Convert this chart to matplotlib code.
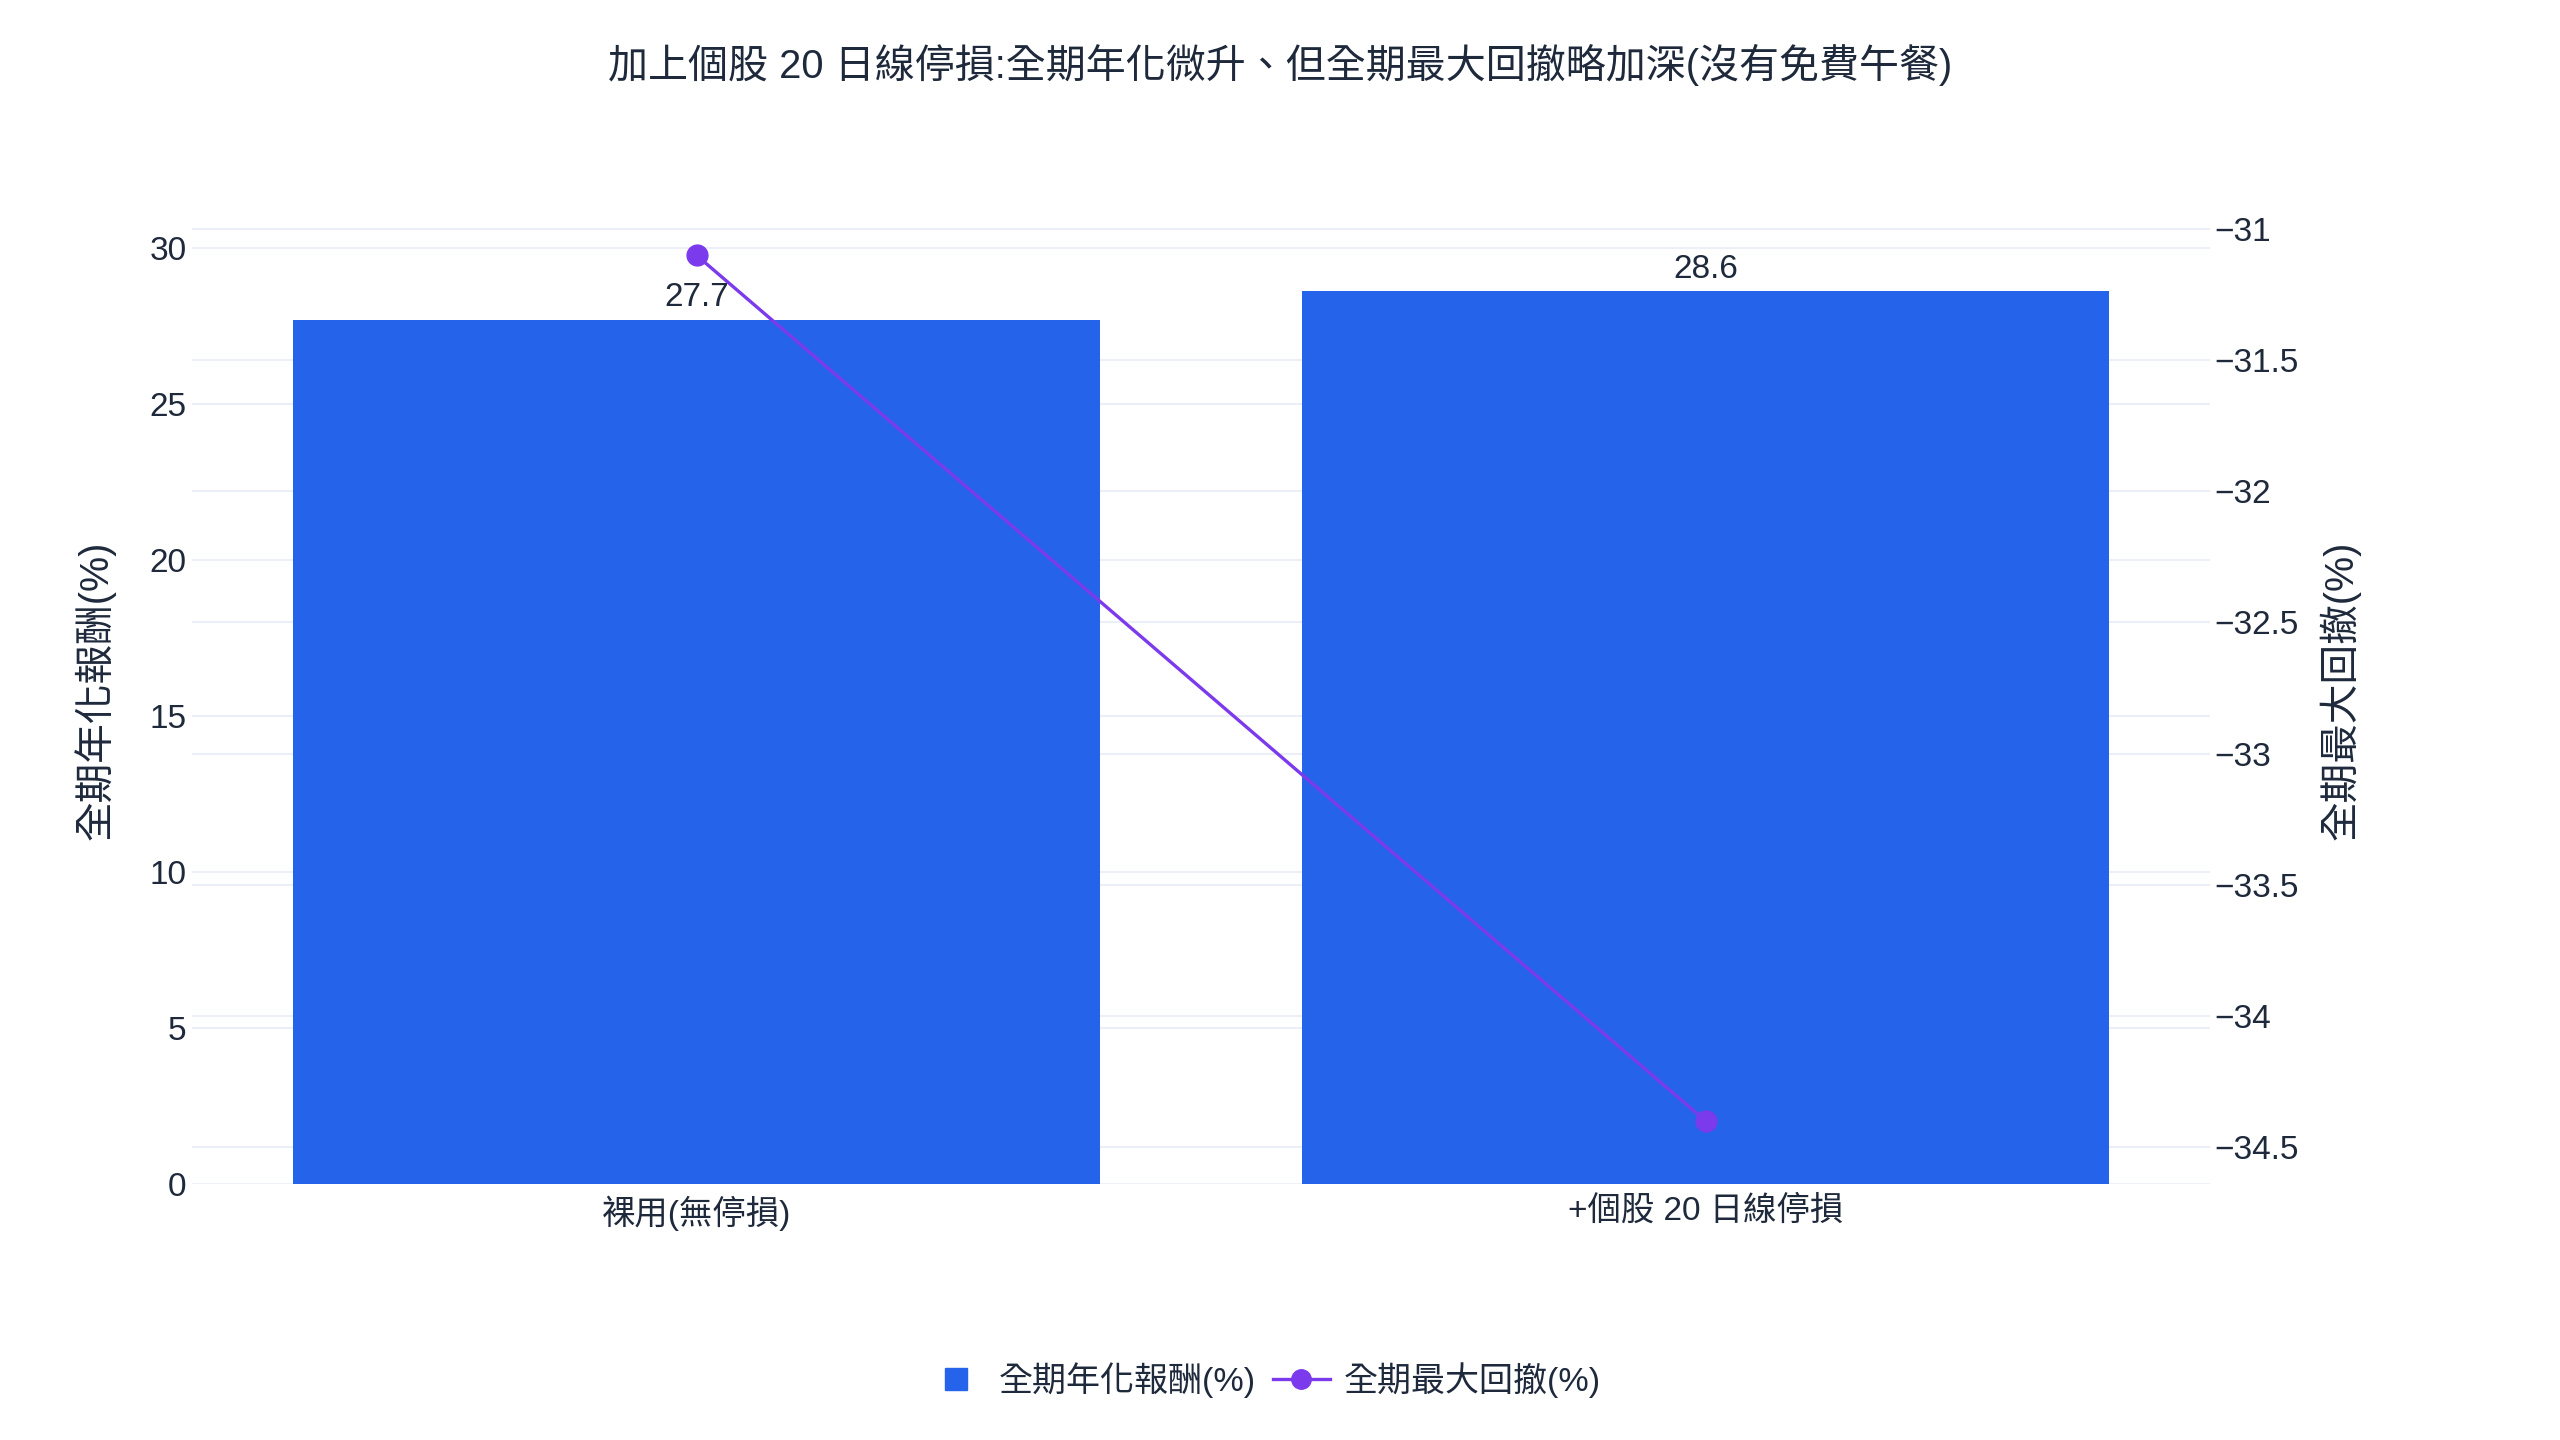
import matplotlib
matplotlib.use("Agg")
import matplotlib.pyplot as plt
from matplotlib.lines import Line2D
from matplotlib.ticker import FixedLocator, FuncFormatter

plt.rcParams['font.family'] = ['Liberation Sans', 'Noto Sans CJK TC', 'DejaVu Sans']
plt.rcParams['axes.unicode_minus'] = True

# ---- data ----
categories = ["裸用(無停損)", "+個股 20 日線停損"]
annual_return = [27.7, 28.6]
max_drawdown = [-31.1, -34.4]
left_ticks = [0, 5, 10, 15, 20, 25, 30]
right_ticks = [-31, -31.5, -32, -32.5, -33, -33.5, -34, -34.5]
title = "加上個股 20 日線停損:全期年化微升、但全期最大回撤略加深(沒有免費午餐)"
left_label = "全期年化報酬(%)"
right_label = "全期最大回撤(%)"

BAR = "#2563eb"
LINE = "#7c3aed"
GRID = "#ebf0f8"
TXT = "#1e293b"

W, H = 2560, 1440
fig = plt.figure(figsize=(W / 100, H / 100), dpi=100)
fig.patch.set_facecolor("white")

px_l, px_r, px_t, px_b = 192, 2210, 191, 1184
ax = fig.add_axes([px_l / W, 1 - px_b / H, (px_r - px_l) / W, (px_b - px_t) / H])
ax2 = ax.twinx()

x = list(range(len(categories)))
bars = ax.bar(x, annual_return, width=0.8, color=BAR, zorder=2)
ax.set_xlim(-0.5, len(categories) - 0.5)
ax.set_ylim(0, 31.82)
ax.yaxis.set_major_locator(FixedLocator(left_ticks))
ax.set_xticks(x)
ax.set_xticklabels(categories)

for xi, v in zip(x, annual_return):
    ax.annotate(f"{v:.1f}", (xi, v), xytext=(0, 4.5), textcoords="offset points",
                ha="center", va="bottom", fontsize=24, color=TXT, zorder=5)

ax2.plot(x, max_drawdown, color=LINE, lw=2.4, marker="o", markersize=15,
         zorder=4)
ax2.set_ylim(-34.641, -30.855)
ax2.yaxis.set_major_locator(FixedLocator(right_ticks))
ax2.yaxis.set_major_formatter(FuncFormatter(lambda v, p: f"{v:g}".replace("-", "\u2212")))

# draw line above bars
ax.set_zorder(1)
ax2.set_zorder(2)
ax.patch.set_visible(False)
ax2.patch.set_visible(False)

for a in (ax, ax2):
    for s in a.spines.values():
        s.set_visible(False)
    a.tick_params(axis="both", length=0, colors=TXT, labelsize=24)

ax.tick_params(axis="y", pad=4)
ax.tick_params(axis="x", pad=8)
ax2.tick_params(axis="y", pad=3)

# gridlines for both axes (drawn behind)
l0, l1 = ax.get_ylim()
r0, r1 = ax2.get_ylim()
for t in left_ticks:
    ax.axhline(t, color=GRID, lw=1.5 if t else 2.0, zorder=0)
for t in right_ticks:
    ax.axhline(l0 + (t - r0) / (r1 - r0) * (l1 - l0), color=GRID, lw=1.5, zorder=0)

fig.text(0.5, 1 - 65 / H, title, ha="center", va="center", fontsize=28.8, color=TXT)
fig.text(95 / W, 1 - 690 / H, left_label, rotation=90, ha="center", va="center",
         fontsize=28.5, color=TXT)
fig.text(2340 / W, 1 - 690 / H, right_label, rotation=90, ha="center", va="center",
         fontsize=28.5, color=TXT)

handles = [
    Line2D([], [], linestyle="none", marker="s", markersize=16, color=BAR),
    Line2D([], [], color=LINE, lw=2.4, marker="o", markersize=14),
]
fig.legend(handles, ["全期年化報酬(%)", "全期最大回撤(%)"], loc="center",
           bbox_to_anchor=(1264 / W, 1 - 1380 / H), ncol=2, frameon=False,
           fontsize=24.5, labelcolor=TXT, handlelength=1.7, handletextpad=0.4,
           columnspacing=0.5)

fig.savefig("out.png", dpi=100, facecolor="white")
